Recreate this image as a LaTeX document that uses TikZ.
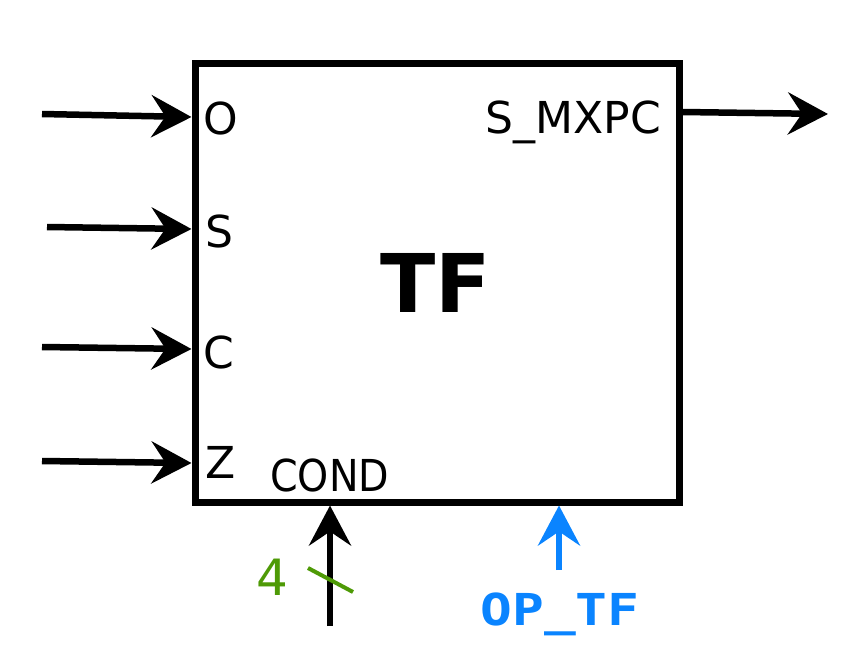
\documentclass[tikz,border=0pt]{standalone}
\usepackage{fontspec}
\setmainfont{DejaVu Sans}
\newfontfamily\opfont[FakeStretch=1.2]{DejaVu Sans Mono}
\newfontfamily\narrowfont[FakeStretch=0.9]{DejaVu Sans}
\usetikzlibrary{arrows.meta,positioning,calc}
\definecolor{opblue}{RGB}{10,132,255}
\definecolor{busgreen}{RGB}{78,154,6}
\tikzset{
    signal/.style={-{Stealth[length=40pt, width=42pt, inset=14pt]}, line width=6.5pt, black},
    ctrl/.style={signal, opblue},
    block/.style={draw, line width=7pt, minimum width=484pt, minimum height=439pt, inner sep=0pt},
    port/.style={font=\fontsize{44}{48}\selectfont, inner sep=0pt},
    bus/.style={busgreen, line width=4pt}
}

\begin{document}
\begin{tikzpicture}[x=1pt, y=-1pt]
    \useasboundingbox (0,0) rectangle (855,665);
    \node[block] (tf) at (437,282.5) {};
    \node[font=\fontsize{81}{84}\selectfont\bfseries, inner sep=0pt, anchor=base] (title) at (436,312) {TF};
    % ports
    \node[port, anchor=base west] (lblO) at (203,134) {O};
    \node[port, anchor=base west] (lblS) at (205,247) {S};
    \node[port, anchor=base west] (lblC) at (203,368) {C};
    \node[port, anchor=base west] (lblZ) at (205,478) {Z};
    \node[port, anchor=base east] (lblMX) at (661,133) {S\_MXPC};
    \node[port, font=\narrowfont\fontsize{44}{48}\selectfont, anchor=base west] (lblCOND) at (270,491) {COND};
    % inputs
    \coordinate (inO) at (42,114);
    \coordinate (inS) at (47,227);
    \coordinate (inC) at (42,347);
    \coordinate (inZ) at (42,461);
    \draw[signal] (inO) -- (tf.west |- 0,117);
    \draw[signal] (inS) -- (tf.west |- 0,229);
    \draw[signal] (inC) -- (tf.west |- 0,349);
    \draw[signal] (inZ) -- (tf.west |- 0,463);
    % output
    \coordinate (outMX) at (828,114);
    \draw[signal] (tf.east |- 0,112) -- (outMX);
    % bottom
    \coordinate (inCOND) at (330,626);
    \draw[signal] (inCOND) -- (inCOND |- tf.south);
    \draw[bus] (308,568) -- (353,592);
    \node[port, font=\fontsize{50}{52}\selectfont, text=busgreen, anchor=base] (width) at (272,595) {4};
    \coordinate (inOP) at (559,570);
    \draw[ctrl] (inOP) -- (inOP |- tf.south);
    \node[inner sep=0pt, anchor=base, text=opblue, font=\opfont\bfseries\fontsize{44}{46}\selectfont] (lblOP) at (560,625) {OP\_TF};
\end{tikzpicture}
\end{document}
